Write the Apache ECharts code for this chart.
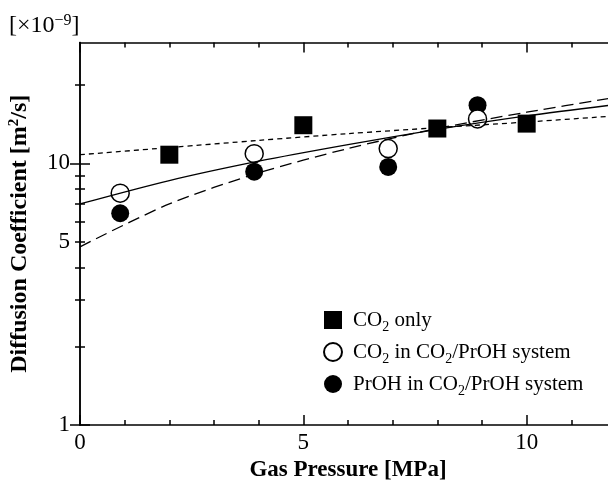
<!DOCTYPE html>
<html>
<head>
<meta charset="utf-8">
<script src="https://cdn.jsdelivr.net/npm/echarts@6/dist/echarts.min.js"></script>
<style>
  html, body { margin: 0; padding: 0; background: #fff; }
  #chart { width: 608px; height: 482px; }
</style>
</head>
<body>
<div id="chart"></div>
<script>
// fitted curves
const pressureFit = [0, 2, 4, 6, 8, 10, 12];
const co2OnlyFit = [10.8, 11.5, 12.25, 13.0, 13.7, 14.4, 15.2];
const co2MixFit = [7.0, 8.6, 10.2, 11.8, 13.5, 15.2, 16.8];
const prohMixFit = [4.8, 7.0, 9.2, 11.4, 13.6, 15.7, 17.9];

// measured points
const co2OnlyP = [2, 5, 8, 10];
const co2OnlyD = [10.8, 14.0, 13.6, 14.2];
const co2MixP = [0.9, 3.9, 6.9, 8.9];
const co2MixD = [7.7, 10.9, 11.4, 14.8];
const prohMixP = [0.9, 3.9, 6.9, 8.9];
const prohMixD = [6.45, 9.3, 9.7, 16.7];

// ticks
const xMajorTicks = [0, 5, 10];
const xMinorTicks = [1, 2, 3, 4, 6, 7, 8, 9, 11];
const yMajorTicks = [1, 10];
const yMinorTicks = [2, 3, 4, 5, 6, 7, 8, 9, 20];
const yLabels = [1, 5, 10];

const names = ['CO2 only', 'CO2 in CO2/PrOH system', 'PrOH in CO2/PrOH system'];
const richNames = {
    'CO2 only': 'CO{sub|2} only',
    'CO2 in CO2/PrOH system': 'CO{sub|2} in CO{sub|2}/PrOH system',
    'PrOH in CO2/PrOH system': 'PrOH in CO{sub|2}/PrOH system'
};

const font = 'Liberation Serif';
const black = '#000';

function pairs(xs, ys) {
    return xs.map((x, i) => [x, ys[i]]);
}

function xAxisDef(position, ticks, len, main) {
    const ax = {
        type: 'value', min: 0, max: 12, position: position,
        axisLine: { show: main, lineStyle: { color: black, width: 1.5 } },
        axisTick: { inside: true, length: len, customValues: ticks, lineStyle: { color: black, width: 1.5 } },
        axisLabel: { show: false },
        splitLine: { show: false }
    };
    if (main && position === 'bottom') {
        ax.axisLabel = { show: true, customValues: xMajorTicks, color: black, fontFamily: font, fontSize: 23, margin: 6 };
        ax.name = 'Gas Pressure [MPa]';
        ax.nameLocation = 'middle';
        ax.nameGap = 24;
        ax.nameTextStyle = { color: black, fontFamily: font, fontSize: 23, fontWeight: 'bold' };
    }
    return ax;
}

function yAxisDef(position, ticks, len, main) {
    const ax = {
        type: 'log', logBase: 10, min: 1, max: 29, position: position,
        axisLine: { show: main, lineStyle: { color: black, width: 1.5 } },
        axisTick: { inside: true, length: len, customValues: ticks, lineStyle: { color: black, width: 1.5 } },
        axisLabel: { show: false },
        splitLine: { show: false }
    };
    if (main && position === 'left') {
        ax.axisLabel = { show: true, customValues: yLabels, color: black, fontFamily: font, fontSize: 23, margin: 10 };
        ax.name = 'Diffusion Coefficient [m{sup|2}/s]';
        ax.nameLocation = 'middle';
        ax.nameGap = 48;
        ax.nameTextStyle = {
            color: black, fontFamily: font, fontSize: 24, fontWeight: 'bold', lineHeight: 25,
            rich: {
                sup: { fontFamily: font, fontSize: 15, fontWeight: 'bold', lineHeight: 15, verticalAlign: 'top', padding: [0, 0, 0, 0] }
            }
        };
    }
    return ax;
}

const chart = echarts.init(document.getElementById('chart'), null, { renderer: 'canvas' });

chart.setOption({
    animation: false,
    backgroundColor: '#fff',
    // plot runs past the right edge of the picture, as in the original
    grid: { left: 80, top: 42.5, width: 536, height: 382.5, outerBoundsMode: 'none', containLabel: false },
    xAxis: [
        xAxisDef('bottom', xMajorTicks, 10, true),
        xAxisDef('bottom', xMinorTicks, 5, false),
        xAxisDef('top', xMajorTicks, 10, true),
        xAxisDef('top', xMinorTicks, 5, false)
    ],
    yAxis: [
        yAxisDef('left', yMajorTicks, 10, true),
        yAxisDef('left', yMinorTicks, 5, false),
        yAxisDef('right', yMajorTicks, 10, true),
        yAxisDef('right', yMinorTicks, 5, false)
    ],
    legend: {
        orient: 'vertical', left: 318, top: 304,
        itemWidth: 18, itemHeight: 18, itemGap: 7,
        data: names,
        formatter: n => richNames[n],
        textStyle: {
            color: black, fontFamily: font, fontSize: 21, lineHeight: 22, padding: [0, 0, 0, 6],
            rich: {
                sub: { fontFamily: font, fontSize: 14, lineHeight: 14, verticalAlign: 'top', padding: [11, 0, 0, 0] }
            }
        }
    },
    graphic: [{
        type: 'text', left: 9, top: 13,
        style: {
            text: '[×10{sup|−9}]', fill: black, fontFamily: font, fontSize: 24, lineHeight: 26,
            rich: {
                sup: { fontFamily: font, fontSize: 16, lineHeight: 16, verticalAlign: 'top', padding: [0, 0, 0, 0], fill: black }
            }
        }
    }],
    series: [
        {
            name: names[0], type: 'scatter', symbol: 'rect', symbolSize: 18,
            itemStyle: { color: black, opacity: 1 }, data: pairs(co2OnlyP, co2OnlyD), z: 2
        },
        {
            name: names[2], type: 'scatter', symbol: 'circle', symbolSize: 18,
            itemStyle: { color: black, opacity: 1 }, data: pairs(prohMixP, prohMixD), z: 2
        },
        {
            name: names[1], type: 'scatter', symbol: 'circle', symbolSize: 18,
            itemStyle: { color: '#fff', borderColor: black, borderWidth: 1.5, opacity: 1 },
            data: pairs(co2MixP, co2MixD), z: 3
        },
        {
            type: 'line', smooth: 0.3, showSymbol: false, silent: true, z: 4,
            lineStyle: { color: black, width: 1.3, type: [5, 4] },
            data: pairs(pressureFit, co2OnlyFit)
        },
        {
            type: 'line', smooth: 0.3, showSymbol: false, silent: true, z: 4,
            lineStyle: { color: black, width: 1.3, type: 'solid' },
            data: pairs(pressureFit, co2MixFit)
        },
        {
            type: 'line', smooth: 0.3, showSymbol: false, silent: true, z: 4,
            lineStyle: { color: black, width: 1.3, type: [12, 6] },
            data: pairs(pressureFit, prohMixFit)
        }
    ]
});
</script>
</body>
</html>
